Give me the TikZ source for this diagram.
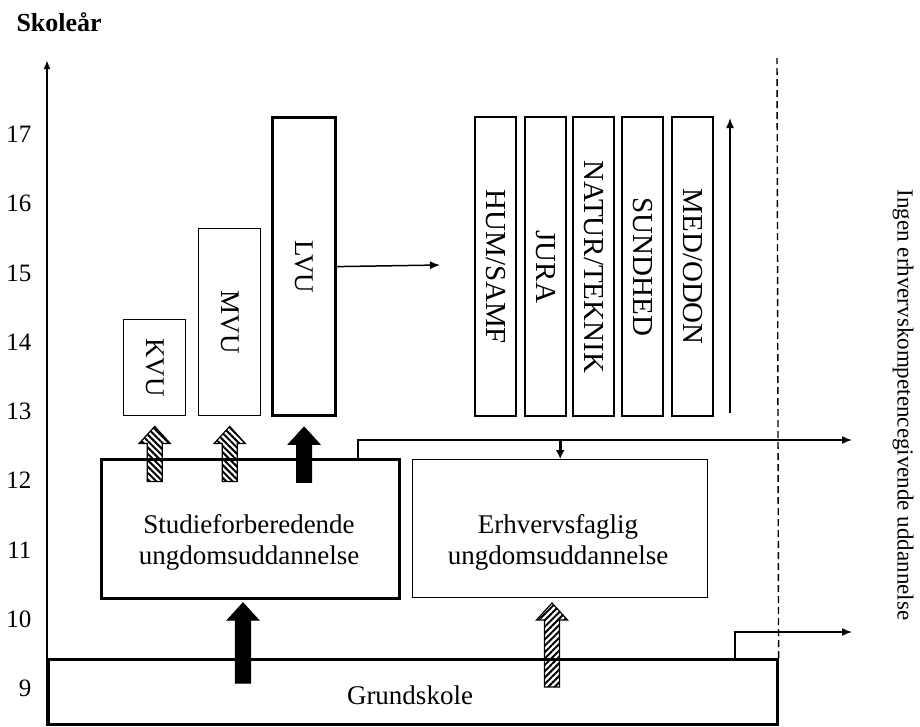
\documentclass[tikz,border=0pt]{standalone}
\usepackage{fontspec}
\setmainfont{Liberation Serif}
\usepackage{graphicx}
\newcommand{\blockarrow}[2]% tip, shaft length
{(#1) -- ++(15.5,17) -- ++(-8,0) -- ++(0,#2) -- ++(-15,0) -- ++(0,-#2) -- ++(-8,0) -- cycle
}
\usetikzlibrary{arrows.meta}
\usetikzlibrary{calc}
\usetikzlibrary{patterns.meta}
\tikzset{
	box/.style={draw, anchor=north west, inner sep=0pt, line width=1.4pt,
		font=\fontsize{27}{31}\selectfont},
	thickbox/.style={box, line width=2.6pt},
	fieldbox/.style={box, line width=2.4pt, minimum width=41pt, minimum height=299pt,
		font=\fontsize{29}{33}\selectfont},
	lbl/.style={font=\fontsize{27}{31}\selectfont, align=center},
	yearlbl/.style={anchor=east, font=\fontsize{25}{29}\selectfont},
	conn/.style={line width=1.5pt, -{Latex[length=10pt,width=8pt]}},
	border/.style={line width=1.4pt, dash pattern=on 7pt off 4pt},
	hatchup/.style={draw, line width=1.2pt, pattern={Lines[angle=-45,distance=4.5pt,line width=2pt]}},
	hatchlow/.style={draw, line width=1.2pt, pattern={Lines[angle=45,distance=4.5pt,line width=2pt]}},
	solidup/.style={draw, line width=1.2pt, fill=black}
}

\begin{document}
\begin{tikzpicture}[x=1pt,y=-1pt]
	\useasboundingbox (0,0) rectangle (920,726);
	\node[anchor=west, font=\fontsize{26}{30}\selectfont\bfseries] (title) at (13,22) {Skoleår};
	% axis
	\coordinate (axisbot) at (47,726);
	\coordinate (axistop) at (47,60);
	\draw[line width=2.4pt, -{Latex[length=9pt,width=7pt]}] (axisbot) -- (axistop);
	\node[yearlbl] (y9) at (35,688) {9};
	\node[yearlbl] (y10) at (35,619) {10};
	\node[yearlbl] (y11) at (35,550) {11};
	\node[yearlbl] (y12) at (35,480) {12};
	\node[yearlbl] (y13) at (35,411) {13};
	\node[yearlbl] (y14) at (35,342) {14};
	\node[yearlbl] (y15) at (35,273) {15};
	\node[yearlbl] (y16) at (35,203) {16};
	\node[yearlbl] (y17) at (35,134) {17};
	% boxes
	\node[thickbox, minimum width=729pt, minimum height=65pt] (grund) at (47,658) {};
	\node[lbl] (grundtxt) at (410,695) {Grundskole};
	\node[thickbox, minimum width=298pt, minimum height=139pt] (stud) at (100,458) {};
	\node[lbl] (studtxt) at (249,542) {Studieforberedende\\ungdomsuddannelse};
	\node[box, minimum width=295pt, minimum height=138pt] (erhv) at (412,459) {};
	\node[lbl] (erhvtxt) at (558,542) {Erhvervsfaglig\\ungdomsuddannelse};
	\node[box, minimum width=62pt, minimum height=96pt] (kvu) at (123,319) {\rotatebox{-90}{KVU}};
	\node[box, minimum width=62pt, minimum height=187pt] (mvu) at (198,228) {\rotatebox{-90}{MVU}};
	\node[box, line width=3.2pt, minimum width=63pt, minimum height=298pt] (lvu) at (271,116) {\rotatebox{-90}{LVU}};
	\node[fieldbox] (hum) at (474,116) {\rotatebox{-90}{HUM/SAMF}};
	\node[fieldbox] (jura) at (524,116) {\rotatebox{-90}{JURA}};
	\node[fieldbox] (natur) at (572,116) {\rotatebox{-90}{NATUR/TEKNIK}};
	\node[fieldbox] (sund) at (621,116) {\rotatebox{-90}{SUNDHED}};
	\node[fieldbox] (med) at (671,116) {\rotatebox{-90}{MED/ODON}};
	\node[rotate=-90, font=\fontsize{23}{27}\selectfont] (ingen) at (903,405) {Ingen erhvervskompetencegivende uddannelse};
	% connectors
	\coordinate (dashtop) at (777,58);
	\draw[border] (grund.north east) -- (dashtop);
	\coordinate (lowturn) at (735,632);
	\coordinate (lowend) at (852,632);
	\draw[conn] (lowturn |- grund.north) -- (lowturn) -- (lowend);
	\coordinate (upturn) at (358,440);
	\coordinate (upend) at (852,440);
	\draw[conn] (upturn |- stud.north) -- (upturn) -- (upend);
	\draw[line width=3pt, -{Latex[length=9pt,width=9pt]}] (erhv.north |- upturn) -- (erhv.north);
	\coordinate (lvuend) at (440,265);
	\draw[conn] (lvu.east) -- (lvuend);
	\coordinate (fieldlow) at (730,413);
	\coordinate (fieldtop) at (730,118);
	\draw[conn] (fieldlow) -- (fieldtop);
	% block arrows
	\draw[hatchup] \blockarrow{$(kvu.south)+(0,10)$}{38};
	\draw[hatchup] \blockarrow{$(mvu.south)+(0,10)$}{38};
	\draw[solidup] \blockarrow{$(lvu.south)+(0,10)$}{38};
	\draw[solidup] \blockarrow{243,603}{63};
	\draw[hatchlow] \blockarrow{552,603}{67};
\end{tikzpicture}
\end{document}
